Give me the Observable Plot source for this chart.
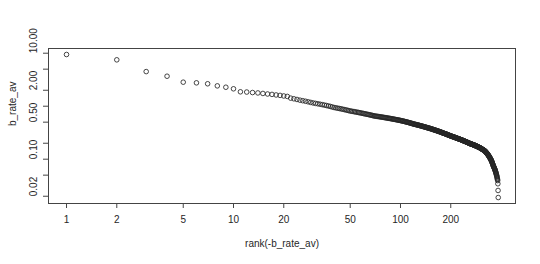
<!DOCTYPE html>
<html>
<head>
<meta charset="utf-8">
<script src="https://cdn.jsdelivr.net/npm/d3@7"></script>
<script src="https://cdn.jsdelivr.net/npm/@observablehq/plot@0.6"></script>
<style>
  html, body { margin: 0; padding: 0; background: #fff; }
</style>
</head>
<body>
<div id="chart"></div>
<script>
// b_rate_av values sorted descending (rank 1 = largest)
const bRateAv = [
  9.45, 7.5, 4.5, 3.68, 2.84, 2.76, 2.65, 2.42, 2.28, 2.13,
  1.87, 1.85, 1.81, 1.78, 1.74, 1.70, 1.67, 1.63, 1.60, 1.56,
  1.53, 1.42, 1.38, 1.34, 1.30, 1.27, 1.24, 1.21, 1.18, 1.15,
  1.13, 1.11, 1.09, 1.07, 1.05, 1.03, 1.01, 0.99, 0.967, 0.945,
  0.932, 0.918, 0.905, 0.892, 0.878, 0.865, 0.852, 0.839, 0.825, 0.812,
  0.804, 0.795, 0.787, 0.778, 0.770, 0.762, 0.753, 0.745, 0.736, 0.728,
  0.720, 0.713, 0.705, 0.698, 0.690, 0.683, 0.675, 0.668, 0.660, 0.653,
  0.649, 0.645, 0.641, 0.637, 0.633, 0.628, 0.624, 0.620, 0.616, 0.612,
  0.608, 0.604, 0.600, 0.596, 0.592, 0.589, 0.585, 0.581, 0.577, 0.573,
  0.569, 0.566, 0.562, 0.559, 0.555, 0.551, 0.548, 0.544, 0.541, 0.537,
  0.533, 0.529, 0.526, 0.522, 0.518, 0.514, 0.510, 0.507, 0.503, 0.499,
  0.495, 0.491, 0.488, 0.484, 0.480, 0.476, 0.472, 0.469, 0.465, 0.461,
  0.458, 0.455, 0.453, 0.450, 0.447, 0.444, 0.441, 0.439, 0.436, 0.433,
  0.430, 0.427, 0.425, 0.422, 0.419, 0.416, 0.413, 0.411, 0.408, 0.405,
  0.403, 0.400, 0.398, 0.395, 0.393, 0.390, 0.388, 0.385, 0.383, 0.381,
  0.378, 0.376, 0.373, 0.371, 0.368, 0.366, 0.363, 0.361, 0.358, 0.356,
  0.354, 0.352, 0.349, 0.347, 0.345, 0.343, 0.341, 0.338, 0.336, 0.334,
  0.332, 0.330, 0.327, 0.325, 0.323, 0.321, 0.319, 0.316, 0.314, 0.312,
  0.310, 0.308, 0.306, 0.304, 0.303, 0.301, 0.299, 0.297, 0.295, 0.293,
  0.291, 0.289, 0.287, 0.285, 0.284, 0.282, 0.280, 0.278, 0.276, 0.274,
  0.273, 0.271, 0.270, 0.268, 0.267, 0.266, 0.264, 0.263, 0.261, 0.260,
  0.259, 0.257, 0.256, 0.254, 0.253, 0.252, 0.250, 0.249, 0.247, 0.246,
  0.245, 0.244, 0.242, 0.241, 0.240, 0.239, 0.237, 0.236, 0.235, 0.234,
  0.232, 0.231, 0.230, 0.229, 0.227, 0.226, 0.225, 0.224, 0.222, 0.221,
  0.220, 0.219, 0.218, 0.216, 0.215, 0.214, 0.213, 0.212, 0.211, 0.210,
  0.208, 0.207, 0.206, 0.205, 0.204, 0.203, 0.201, 0.200, 0.199, 0.198,
  0.197, 0.196, 0.195, 0.195, 0.194, 0.193, 0.192, 0.191, 0.190, 0.190,
  0.189, 0.188, 0.187, 0.186, 0.185, 0.185, 0.184, 0.183, 0.182, 0.181,
  0.180, 0.179, 0.178, 0.177, 0.177, 0.176, 0.175, 0.174, 0.173, 0.172,
  0.171, 0.170, 0.169, 0.168, 0.168, 0.167, 0.166, 0.165, 0.164, 0.163,
  0.162, 0.161, 0.160, 0.159, 0.158, 0.157, 0.156, 0.155, 0.154, 0.153,
  0.152, 0.151, 0.150, 0.149, 0.148, 0.147, 0.146, 0.145, 0.144, 0.143,
  0.142, 0.140, 0.139, 0.137, 0.136, 0.134, 0.133, 0.131, 0.130, 0.128,
  0.126, 0.125, 0.123, 0.122, 0.120, 0.118, 0.117, 0.115, 0.114, 0.112,
  0.110, 0.108, 0.107, 0.105, 0.103, 0.102, 0.100, 0.0980, 0.0963, 0.0945,
  0.0925, 0.0905, 0.0885, 0.0865, 0.0845, 0.0825, 0.0805, 0.0785, 0.0765, 0.0745,
  0.0731, 0.0716, 0.0702, 0.0688, 0.0674, 0.0659, 0.0645, 0.0631, 0.0616, 0.0602,
  0.0585, 0.0568, 0.0552, 0.0535, 0.0519, 0.0502, 0.0486, 0.0470,
  0.0450, 0.0432, 0.0414, 0.0395,
  0.0344, 0.0257, 0.0189
];

const xTicks = [1, 2, 5, 10, 20, 50, 100, 200];
const xTickLabels = ["1", "2", "5", "10", "20", "50", "100", "200"];
const yTicks = [0.02, 0.05, 0.1, 0.2, 0.5, 1, 2, 5, 10];
const yTickLabels = ["0.02", "", "0.10", "", "0.50", "", "2.00", "", "10.00"];
const xTitle = "rank(-b_rate_av)";
const yTitle = "b_rate_av";

const data = bRateAv.map((v, i) => ({rank: i + 1, value: v}));
const xLab = xTicks.map((t, i) => ({t, label: xTickLabels[i]}));
const yLab = yTicks.map((t, i) => ({t, label: yTickLabels[i]})).filter(d => d.label !== "");

const ink = "#262626";

const chart = Plot.plot({
  width: 540,
  height: 264,
  marginLeft: 48,
  marginRight: 25,
  marginTop: 48,
  marginBottom: 61,
  style: {
    fontFamily: "'Liberation Sans', Arial, sans-serif",
    fontSize: "10px",
    color: ink,
    background: "#fff"
  },
  x: {type: "log", domain: [0.780, 488.4], label: null},
  y: {type: "log", domain: [0.01459, 12.27], label: null},
  marks: [
    Plot.frame({stroke: "#444", strokeWidth: 1}),
    Plot.dot(data, {x: "rank", y: "value", r: 2.3, stroke: ink, strokeWidth: 0.85, fill: "none"}),
    Plot.axisX({ticks: xTicks, tickSize: 5, tickFormat: () => "", label: null, stroke: "#444"}),
    Plot.axisY({ticks: yTicks, tickSize: 5, tickFormat: () => "", label: null, stroke: "#444"}),
    Plot.text(xLab, {x: "t", text: "label", frameAnchor: "bottom", dy: 19, fill: ink}),
    Plot.text(yLab, {y: "t", text: "label", frameAnchor: "left", dx: -15, rotate: -90, fill: ink}),
    Plot.text([xTitle], {text: d => d, frameAnchor: "bottom", dy: 43, fill: ink}),
    Plot.text([yTitle], {text: d => d, frameAnchor: "left", dx: -36, rotate: -90, fill: ink})
  ]
});

document.getElementById("chart").appendChild(chart);
</script>
</body>
</html>
